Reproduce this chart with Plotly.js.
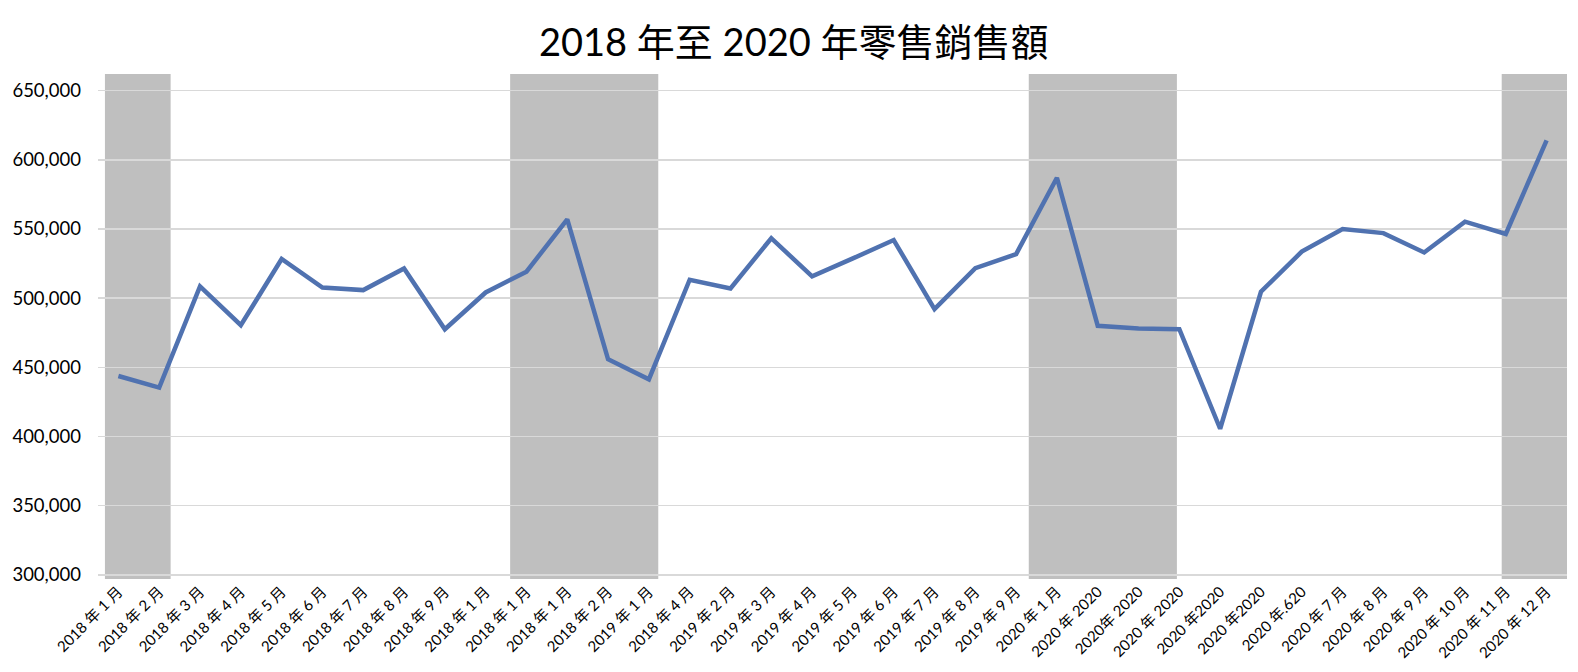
<!DOCTYPE html>
<html>
<head>
<meta charset="utf-8">
<script src="https://cdn.plot.ly/plotly-3.0.1.min.js"></script>
<style>
  html, body { margin: 0; padding: 0; background: #fff; overflow: hidden; }
  #chart { width: 1578px; height: 672px; }
</style>
</head>
<body>
<div id="chart"></div>
<script>
// tick labels as they appear on the chart (including the repeated / garbled ones)
const monthLabels = [
  '2018 年 1 月', '2018 年 2 月', '2018 年 3 月', '2018 年 4 月', '2018 年 5 月', '2018 年 6 月',
  '2018 年 7 月', '2018 年 8 月', '2018 年 9 月', '2018 年 1 月', '2018 年 1 月', '2018 年 1 月',
  '2018 年 2 月', '2019 年 1 月', '2018 年 4 月', '2019 年 2 月', '2019 年 3 月', '2019 年 4 月',
  '2019 年 5 月', '2019 年 6 月', '2019 年 7 月', '2019 年 8 月', '2019 年 9 月', '2020 年 1 月',
  '2020 年 2020', '2020年 2020', '2020 年 2020', '2020 年2020', '2020 年2020', '2020 年.620',
  '2020 年 7 月', '2020 年 8 月', '2020 年 9 月', '2020 年 10 月', '2020 年 11 月', '2020 年 12 月'
];

const retailSales = [
  443700, 435300, 508500, 480400, 528300, 507700,
  505800, 521500, 477500, 504100, 519100, 557000,
  455800, 441300, 513300, 507000, 543300, 515700,
  528700, 542000, 492000, 521700, 531800, 587000,
  480000, 478000, 477500, 405600, 504600, 533600,
  550000, 547000, 533000, 555300, 546400, 614000
];

// shaded periods, in category-index units (start, end)
const shadeFrom = [-0.33, 9.6, 22.31, 33.9];
const shadeTo   = [1.28, 13.23, 25.94, 35.5];

const xIdx = monthLabels.map((_, i) => i);

const trace = {
  x: xIdx,
  y: retailSales,
  type: 'scatter',
  mode: 'lines',
  line: {color: '#5072b0', width: 4.5},
  hoverinfo: 'y'
};

const shapes = shadeFrom.map((s, i) => ({
  type: 'rect',
  xref: 'x', yref: 'paper',
  x0: s, x1: shadeTo[i],
  y0: 0, y1: 1,
  fillcolor: 'rgba(128,128,128,0.5)',
  line: {width: 0},
  layer: 'between'
}));

const baseFont = 'Lato, "Noto Sans CJK TC", sans-serif';

const layout = {
  width: 1578,
  height: 672,
  paper_bgcolor: '#fff',
  plot_bgcolor: '#fff',
  font: {family: baseFont, color: '#000'},
  title: {
    text: '2018 年至 2020 年零售銷售額',
    font: {family: baseFont, size: 38, color: '#000'},
    x: 0.503, xanchor: 'center',
    y: 0.937, yanchor: 'middle'
  },
  margin: {l: 98, r: 11, t: 74, b: 93, pad: 0},
  showlegend: false,
  xaxis: {
    range: [-0.5, 35.5],
    tickmode: 'array',
    tickvals: xIdx,
    ticktext: monthLabels,
    tickangle: -45,
    tickfont: {family: baseFont, size: 15, color: '#000'},
    showgrid: false,
    zeroline: false,
    showline: false,
    ticks: '',
    automargin: false
  },
  yaxis: {
    range: [297000, 662000],
    tickvals: [300000, 350000, 400000, 450000, 500000, 550000, 600000, 650000],
    tickformat: ',',
    tickfont: {family: baseFont, size: 18.5, color: '#000'},
    showgrid: true,
    gridcolor: '#d9d9d9',
    gridwidth: 1.5,
    zeroline: false,
    showline: false,
    ticks: '',
    ticklabelstandoff: 16,
    automargin: false
  },
  shapes: shapes
};

Plotly.newPlot('chart', [trace], layout, {displayModeBar: false, staticPlot: true});
</script>
</body>
</html>
